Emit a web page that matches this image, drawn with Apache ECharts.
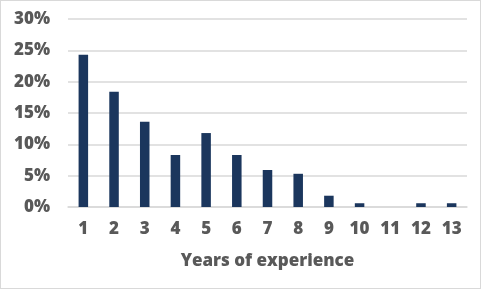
<!DOCTYPE html>
<html>
<head>
<meta charset="utf-8">
<script src="https://cdn.jsdelivr.net/npm/echarts@6/dist/echarts.min.js"></script>
<style>
html,body{margin:0;padding:0;background:#fff;}
#wrap{position:absolute;left:0;top:0;width:479px;height:287px;border:1px solid #d9d9d9;}
#chart{width:479px;height:287px;}
</style>
</head>
<body>
<div id="wrap"><div id="chart"></div></div>
<script>
const categories = ['1','2','3','4','5','6','7','8','9','10','11','12','13'];
const shares = [24.3, 18.4, 13.6, 8.3, 11.8, 8.3, 5.9, 5.3, 1.8, 0.6, 0, 0.6, 0.6];
const yTicks = [0, 5, 10, 15, 20, 25, 30];

const chart = echarts.init(document.getElementById('chart'), null, {renderer: 'canvas'});
const font = '"Open Sans"';
chart.setOption({
  animation: false,
  grid: {left: 67, right: 13, top: 18, bottom: 81},
  xAxis: {
    type: 'category',
    data: categories,
    name: 'Years of experience',
    nameLocation: 'middle',
    nameGap: 46,
    nameTextStyle: {color: '#595959', fontFamily: font, fontWeight: 800, fontSize: 17},
    axisLine: {show: true, lineStyle: {color: '#d9d9d9', width: 1.5}},
    axisTick: {show: false},
    axisLabel: {color: '#595959', fontFamily: font, fontWeight: 800, fontSize: 17, margin: 14}
  },
  yAxis: {
    type: 'value',
    min: yTicks[0],
    max: yTicks[yTicks.length - 1],
    interval: 5,
    axisLine: {show: false},
    axisTick: {show: false},
    splitLine: {lineStyle: {color: '#d9d9d9', width: 1.5}},
    axisLabel: {color: '#595959', fontFamily: font, fontWeight: 800, fontSize: 17, margin: 18,
      formatter: v => v + '%'}
  },
  series: [{
    type: 'bar',
    data: shares,
    barWidth: '31%',
    itemStyle: {color: '#1b365d'}
  }]
});
</script>
</body>
</html>
